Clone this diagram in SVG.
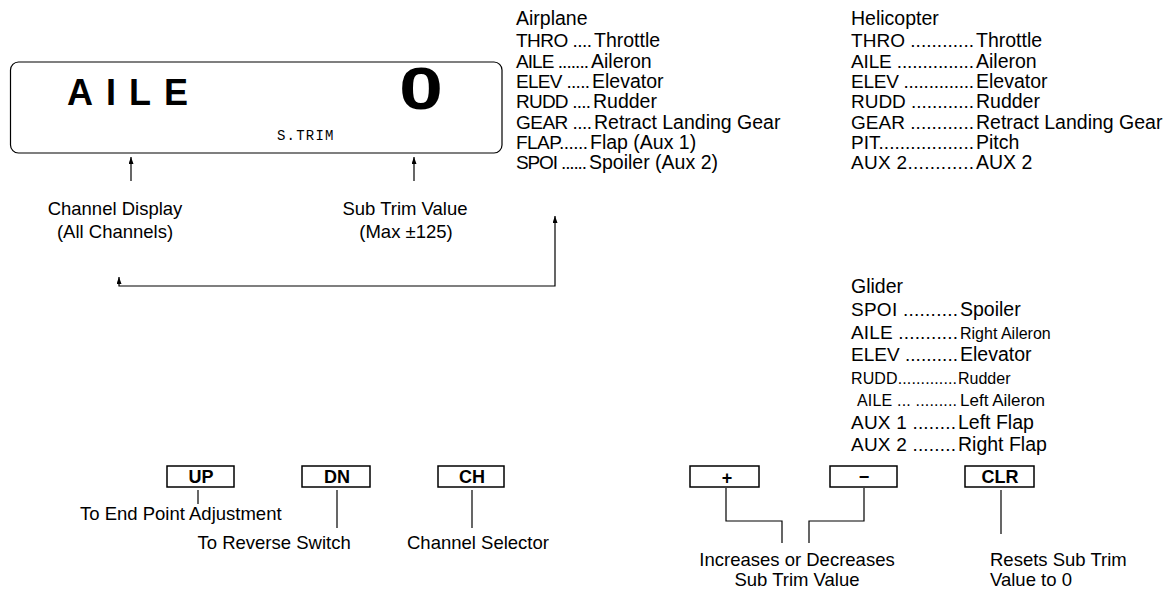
<svg xmlns="http://www.w3.org/2000/svg" width="1173" height="606" viewBox="0 0 1173 606">
<defs>
<marker id="arr" viewBox="0 0 7 5" refX="7" refY="2.5" markerWidth="7" markerHeight="5" markerUnits="userSpaceOnUse" orient="auto-start-reverse">
<path d="M0,0 L7,2.5 L0,5 Z" fill="#000"/>
</marker>
<style>
text{font-family:"Liberation Sans",Arial,sans-serif;fill:#000}
.k{font-size:19px}
.v{font-size:19.5px}
.sm{font-size:16px}
.btn{font-weight:bold;font-size:18px;text-anchor:middle}
.lab{font-size:18.5px}
.mid{text-anchor:middle}
.ln{stroke:#000;stroke-width:1.2;fill:none}
.box{stroke:#000;stroke-width:1.5;fill:#fff}
.mono{font-family:"Liberation Mono","DejaVu Sans Mono",monospace;font-size:14px;letter-spacing:1.2px}
</style>
</defs>
<rect width="1173" height="606" fill="#fff"/>

<g id="display">
<rect x="10.5" y="62" width="491.5" height="91" rx="8" ry="8" class="ln"/>
<text x="67" y="105" font-family="DejaVu Sans Mono, monospace" font-weight="bold" font-size="36" letter-spacing="13">AILE</text>
<text x="399" y="109" font-weight="bold" font-size="60" textLength="44" lengthAdjust="spacingAndGlyphs">0</text>
<text class="mono" x="277" y="140">S.TRIM</text>
</g>

<g id="channel-display">
<text class="lab mid" x="115" y="215">Channel Display</text>
<text class="lab mid" x="115" y="238">(All Channels)</text>
</g>
<g id="sub-trim-value">
<text class="lab mid" x="405" y="215">Sub Trim Value</text>
<text class="lab mid" x="406" y="238">(Max ±125)</text>
</g>

<g id="airplane">
<text class="v" x="516" y="25">Airplane</text>
<text class="k" x="516" y="47" textLength="76" lengthAdjust="spacing">THRO ....</text><text class="v" x="594" y="47">Throttle</text>
<text class="k" x="516" y="68" textLength="73" lengthAdjust="spacing">AILE .......</text><text class="v" x="591" y="68">Aileron</text>
<text class="k" x="516" y="88" textLength="74" lengthAdjust="spacing">ELEV .....</text><text class="v" x="592" y="88">Elevator</text>
<text class="k" x="516" y="108" textLength="75" lengthAdjust="spacing">RUDD ....</text><text class="v" x="593" y="108">Rudder</text>
<text class="k" x="516" y="129" textLength="76" lengthAdjust="spacing">GEAR ....</text><text class="v" x="594" y="129">Retract Landing Gear</text>
<text class="k" x="516" y="149" textLength="72" lengthAdjust="spacing">FLAP......</text><text class="v" x="590" y="149">Flap (Aux 1)</text>
<text class="k" x="516" y="169" textLength="71" lengthAdjust="spacing">SPOI ......</text><text class="v" x="589" y="169">Spoiler (Aux 2)</text>
</g>

<g id="helicopter">
<text class="v" x="851" y="25">Helicopter</text>
<text class="k" x="851" y="47" textLength="123" lengthAdjust="spacing">THRO ............</text><text class="v" x="976" y="47">Throttle</text>
<text class="k" x="851" y="68" textLength="123" lengthAdjust="spacing">AILE ...............</text><text class="v" x="976" y="68">Aileron</text>
<text class="k" x="851" y="88" textLength="123" lengthAdjust="spacing">ELEV ..............</text><text class="v" x="976" y="88">Elevator</text>
<text class="k" x="851" y="108" textLength="123" lengthAdjust="spacing">RUDD ............</text><text class="v" x="976" y="108">Rudder</text>
<text class="k" x="851" y="129" textLength="123" lengthAdjust="spacing">GEAR ............</text><text class="v" x="976" y="129">Retract Landing Gear</text>
<text class="k" x="851" y="149" textLength="123" lengthAdjust="spacing">PIT..................</text><text class="v" x="976" y="149">Pitch</text>
<text class="k" x="851" y="169" textLength="123" lengthAdjust="spacing">AUX 2............</text><text class="v" x="976" y="169">AUX 2</text>
</g>

<g id="glider">
<text class="v" x="851" y="293">Glider</text>
<text class="k" x="851" y="316" textLength="107" lengthAdjust="spacing">SPOI ..........</text><text class="v" x="960" y="316">Spoiler</text>
<text class="k" x="851" y="339" textLength="107" lengthAdjust="spacing">AILE ...........</text><text class="sm" x="960" y="339">Right Aileron</text>
<text class="k" x="851" y="361" textLength="107" lengthAdjust="spacing">ELEV ..........</text><text class="v" x="960" y="361">Elevator</text>
<text class="sm" x="851" y="384" textLength="106" lengthAdjust="spacing">RUDD.............</text><text class="sm" x="958" y="384">Rudder</text>
<text class="sm" x="857" y="406" textLength="100" lengthAdjust="spacing">AILE ... .........</text><text x="960" y="406" font-size="17">Left Aileron</text>
<text class="k" x="851" y="429" textLength="105" lengthAdjust="spacing">AUX 1 ........</text><text class="v" x="958" y="429">Left Flap</text>
<text class="k" x="851" y="451" textLength="105" lengthAdjust="spacing">AUX 2 ........</text><text class="v" x="958" y="451">Right Flap</text>
</g>

<g id="btn-up">
<rect x="167" y="466" width="67" height="21" class="box"/>
<text class="btn" x="201" y="483">UP</text>
<text class="lab" x="80" y="520">To End Point Adjustment</text>
</g>
<g id="btn-dn">
<rect x="302" y="466" width="68" height="21" class="box"/>
<text class="btn" x="337" y="483">DN</text>
<text class="lab" x="197.5" y="549">To Reverse Switch</text>
</g>
<g id="btn-ch">
<rect x="438" y="466" width="66" height="21" class="box"/>
<text class="btn" x="472" y="483">CH</text>
<text class="lab" x="407" y="549">Channel Selector</text>
</g>
<g id="btn-plus">
<rect x="690" y="466" width="69" height="21" class="box"/>
<text class="btn" x="727" y="484">+</text>
</g>
<g id="btn-minus">
<rect x="830" y="466" width="67" height="21" class="box"/>
<text class="btn" x="864" y="483">−</text>
</g>
<g id="incdec-label">
<text class="lab mid" x="797" y="566">Increases or Decreases</text>
<text class="lab mid" x="797" y="586">Sub Trim Value</text>
</g>
<g id="btn-clr">
<rect x="965" y="466" width="69" height="21" class="box"/>
<text class="btn" x="1000" y="483">CLR</text>
<text class="lab" x="990" y="566">Resets Sub Trim</text>
<text class="lab" x="990" y="586">Value to 0</text>
</g>

<g id="connectors" class="ln">
<path d="M131,181 V157" marker-end="url(#arr)"/>
<path d="M414,181 V157" marker-end="url(#arr)"/>
<path d="M555,216 V286 H119 V277" marker-start="url(#arr)" marker-end="url(#arr)"/>
<path d="M198,490 V504"/>
<path d="M337,490 V528"/>
<path d="M472,490 V528"/>
<path d="M726,488 V521 H782 V543"/>
<path d="M864,488 V521 H809 V543"/>
<path d="M1001,490 V534"/>
</g>
</svg>
